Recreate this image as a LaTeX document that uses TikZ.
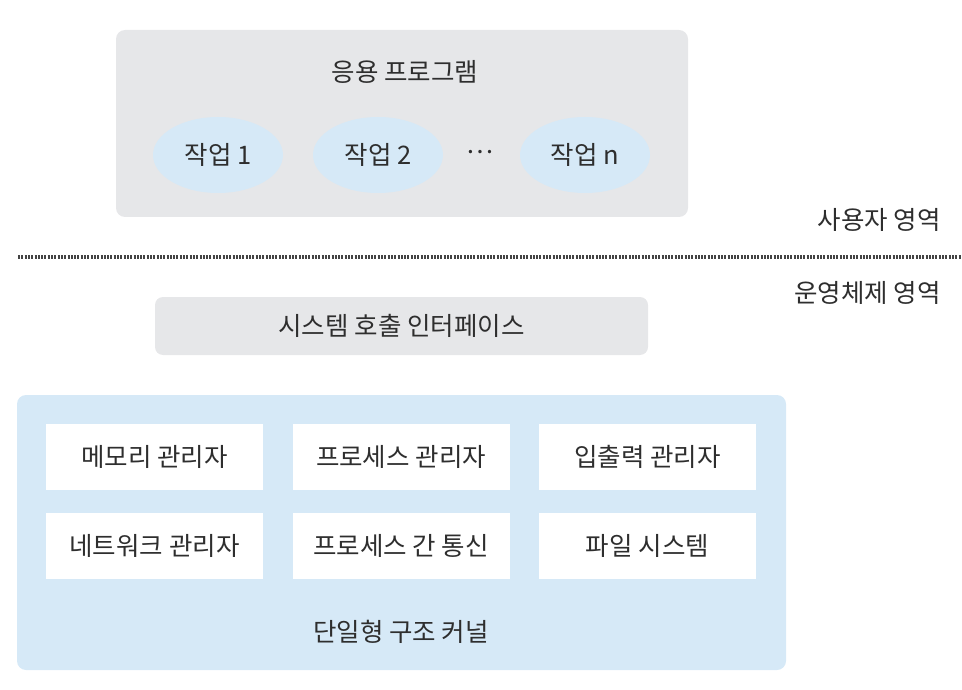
\documentclass[tikz,border=0pt]{standalone}
\usepackage{fontspec}
\setmainfont{Noto Sans CJK KR}
\usetikzlibrary{shapes.geometric}
\definecolor{boxgray}{HTML}{E6E7E9}
\definecolor{lblue}{HTML}{D6E9F7}
\definecolor{txt}{HTML}{2E2E2E}
\tikzset{
  lbl/.style={text=txt, font=\fontsize{25.5}{28}\selectfont, inner sep=0pt},
  task/.style={ellipse, fill=lblue, minimum width=130pt, minimum height=76pt, lbl},
  mod/.style={fill=white, minimum width=217pt, minimum height=66pt, lbl},
}
\begin{document}
\begin{tikzpicture}[x=1pt,y=-1pt]
\useasboundingbox (0,0) rectangle (962,690);
% application box
\node[fill=boxgray, rounded corners=9pt, minimum width=572pt, minimum height=187pt, inner sep=0pt] (app) at (402,123.5) {};
\node[lbl] (apptitle) at (405,72) {응용 프로그램};
\node[task] (t1) at (218,155) {작업 1};
\node[task] (t2) at (378,155) {작업 2};
\node[lbl] (dots) at (480,152) {…};
\node[task] (tn) at (585,155) {작업 n};
% areas
\node[lbl, anchor=east] (user) at (941,220) {사용자 영역};
\coordinate (dl) at (18,257);
\coordinate (dr) at (962,257);
\draw[line width=4pt, color=txt!90, dash pattern=on 2pt off 1.3pt] (dl) -- (dr);
\node[lbl, anchor=east] (os) at (941,293) {운영체제 영역};
% system call interface
\node[fill=boxgray, rounded corners=8pt, minimum width=493pt, minimum height=58pt, lbl] (sci) at (401.5,326) {시스템 호출 인터페이스};
% kernel
\node[fill=lblue, rounded corners=9pt, minimum width=769pt, minimum height=275pt, inner sep=0pt] (kernel) at (401.5,532.5) {};
\node[mod] (m11) at (154.5,457) {메모리 관리자};
\node[mod] (m12) at (401,457) {프로세스 관리자};
\node[mod] (m13) at (647.5,457) {입출력 관리자};
\node[mod] (m21) at (154.5,545.5) {네트워크 관리자};
\node[mod] (m22) at (401,545.5) {프로세스 간 통신};
\node[mod] (m23) at (647.5,545.5) {파일 시스템};
\node[lbl] (ktitle) at (401,632) {단일형 구조 커널};
\end{tikzpicture}
\end{document}
